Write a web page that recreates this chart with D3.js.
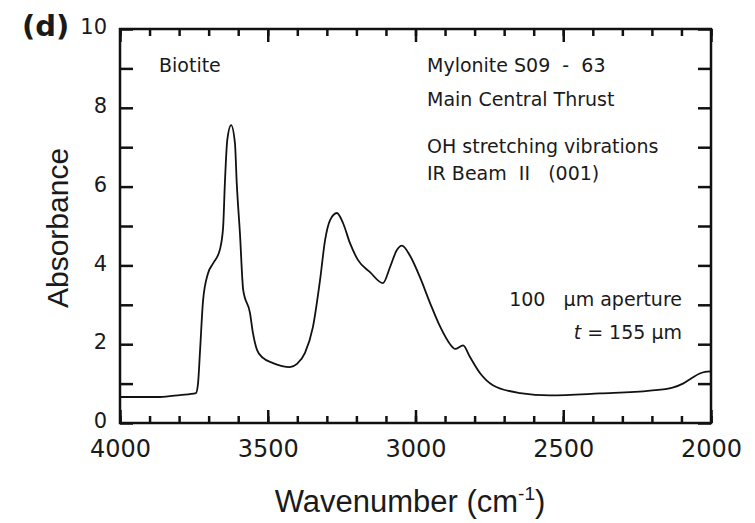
<!DOCTYPE html>
<html>
<head>
<meta charset="utf-8">
<script src="https://cdn.jsdelivr.net/npm/d3@7"></script>
<style>
  body { margin: 0; background: #fff; }
  text { fill: #1a1a1a; }
  .note { font-family: "DejaVu Sans", sans-serif; font-size: 19px; white-space: pre; }
</style>
</head>
<body>
<script>
// spectrum: wavenumber (cm-1) and absorbance
var wavenumber = [4000, 3865, 3797, 3743, 3736, 3729, 3719, 3702, 3685, 3662,
  3651, 3645, 3637, 3624, 3611, 3605, 3594, 3583, 3560, 3550, 3536, 3516, 3482,
  3425, 3401, 3374, 3347, 3323, 3306, 3289, 3266, 3245, 3222, 3195, 3154, 3110,
  3086, 3063, 3046, 3019, 2985, 2951, 2917, 2883, 2866, 2839, 2816, 2782, 2738,
  2646, 2545, 2376, 2206, 2130, 2095, 2065, 2040, 2020, 2000];
var absorbance = [0.66, 0.66, 0.71, 0.76, 1.0, 1.85, 3.1, 3.8, 4.05, 4.4,
  4.97, 6.1, 7.18, 7.56, 7.1, 6.1, 4.8, 3.37, 2.79, 2.28, 1.85, 1.65, 1.52,
  1.42, 1.5, 1.78, 2.44, 3.63, 4.64, 5.15, 5.33, 5.07, 4.57, 4.14, 3.83, 3.55,
  3.96, 4.39, 4.5, 4.25, 3.7, 3.05, 2.45, 2.0, 1.88, 1.97, 1.68, 1.27, 0.96,
  0.76, 0.7, 0.75, 0.82, 0.9, 1.0, 1.14, 1.25, 1.3, 1.31];

var xMajor = [4000, 3500, 3000, 2500, 2000];
var xMinor = d3.range(4000, 1999, -100);
var yMajor = [0, 2, 4, 6, 8, 10];
var yMinor = d3.range(0, 11, 1);

var width = 755, height = 523;
// plot box edges (named to avoid clashing with window.top)
var plotLeft = 120, plotRight = 711, plotTop = 29, plotBottom = 423;

var svg = d3.select('body').append('svg')
  .attr('width', width)
  .attr('height', height);

var x = d3.scaleLinear().domain([4000, 2000]).range([plotLeft, plotRight]);
var y = d3.scaleLinear().domain([0, 10]).range([plotBottom, plotTop]);

var styleAxis = function(g) {
  g.select('.domain').remove();
  g.selectAll('.tick line').attr('stroke', '#111').attr('stroke-width', 2.5);
};

// bottom axis: minor + major ticks pointing in
svg.append('g').attr('transform', 'translate(0,' + plotBottom + ')')
  .call(d3.axisBottom(x).tickValues(xMinor).tickSize(-7).tickFormat(''))
  .call(styleAxis);
svg.append('g').attr('transform', 'translate(0,' + plotBottom + ')')
  .call(d3.axisBottom(x).tickValues(xMajor).tickSize(-13).tickPadding(17).tickFormat(d3.format('d')))
  .call(styleAxis)
  .selectAll('text')
  .attr('font-family', '"DejaVu Sans", sans-serif')
  .attr('font-size', 24);

// top axis
svg.append('g').attr('transform', 'translate(0,' + plotTop + ')')
  .call(d3.axisTop(x).tickValues(xMinor).tickSize(-7).tickFormat(''))
  .call(styleAxis);
svg.append('g').attr('transform', 'translate(0,' + plotTop + ')')
  .call(d3.axisTop(x).tickValues(xMajor).tickSize(-13).tickFormat(''))
  .call(styleAxis);

// left axis
svg.append('g').attr('transform', 'translate(' + plotLeft + ',0)')
  .call(d3.axisLeft(y).tickValues(yMinor).tickSize(-13).tickPadding(13)
    .tickFormat(function(d) { return yMajor.indexOf(d) >= 0 ? d : ''; }))
  .call(styleAxis)
  .selectAll('text')
  .attr('font-family', '"DejaVu Sans", sans-serif')
  .attr('font-size', 21)
  .attr('dy', '0.22em');

// right axis
svg.append('g').attr('transform', 'translate(' + plotRight + ',0)')
  .call(d3.axisRight(y).tickValues(yMinor).tickSize(-13).tickFormat(''))
  .call(styleAxis);

// frame
svg.append('rect')
  .attr('x', plotLeft).attr('y', plotTop)
  .attr('width', plotRight - plotLeft).attr('height', plotBottom - plotTop)
  .attr('fill', 'none').attr('stroke', '#111').attr('stroke-width', 2.5);

// spectrum
var line = d3.line()
  .x(function(d, i) { return x(wavenumber[i]); })
  .y(function(d) { return y(d); })
  .curve(d3.curveMonotoneX);

svg.append('path')
  .datum(absorbance)
  .attr('d', line)
  .attr('fill', 'none')
  .attr('stroke', '#111')
  .attr('stroke-width', 1.8)
  .attr('stroke-linejoin', 'round');

// panel label
svg.append('text')
  .attr('x', 22).attr('y', 36)
  .attr('font-family', '"DejaVu Sans", sans-serif')
  .attr('font-weight', 'bold')
  .attr('font-size', 29)
  .text('(d)');

// axis titles
svg.append('text')
  .attr('transform', 'translate(68,228) rotate(-90)')
  .attr('text-anchor', 'middle')
  .attr('font-family', '"Liberation Sans", Arial, sans-serif')
  .attr('font-size', 30)
  .text('Absorbance');

var xt = svg.append('text')
  .attr('x', 410).attr('y', 512)
  .attr('text-anchor', 'middle')
  .attr('font-family', '"Liberation Sans", Arial, sans-serif')
  .attr('font-size', 31);
xt.append('tspan').text('Wavenumber (cm');
xt.append('tspan').attr('dy', -12).attr('font-size', 19).text('-1');
xt.append('tspan').attr('dy', 12).text(')');

// annotations
var notes = [
  {t: 'Biotite', x: 159, y: 72, a: 'start'},
  {t: 'Mylonite S09  -  63', x: 427, y: 72, a: 'start'},
  {t: 'Main Central Thrust', x: 427, y: 106, a: 'start'},
  {t: 'OH stretching vibrations', x: 427, y: 153, a: 'start'},
  {t: 'IR Beam  II   (001)', x: 427, y: 180, a: 'start'},
  {t: '100   \u03bcm aperture', x: 682, y: 306, a: 'end'}
];
svg.selectAll('text.note').data(notes).enter()
  .append('text')
  .attr('class', 'note')
  .attr('x', function(d) { return d.x; })
  .attr('y', function(d) { return d.y; })
  .attr('text-anchor', function(d) { return d.a; })
  .text(function(d) { return d.t; });

var tt = svg.append('text')
  .attr('class', 'note')
  .attr('x', 682).attr('y', 339)
  .attr('text-anchor', 'end');
tt.append('tspan').attr('font-style', 'italic').text('t');
tt.append('tspan').text(' = 155 \u03bcm');
</script>
</body>
</html>
